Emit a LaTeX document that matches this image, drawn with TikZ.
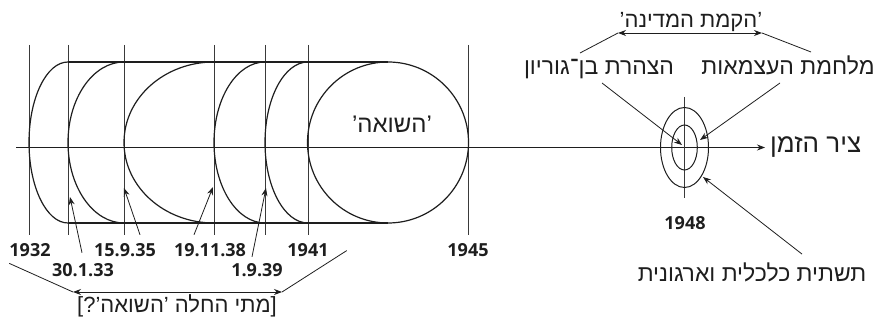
\documentclass[tikz,border=0pt]{standalone}
\usepackage{fontspec}
\usepackage{xcolor}
\usepackage{tikz}
\usetikzlibrary{arrows.meta}
\TeXXeTstate=1
\newfontfamily\hebfont[Script=Hebrew]{Liberation Sans}
\newfontfamily\numfont{Open Sans}
\definecolor{inkline}{HTML}{1E1E1E}
\definecolor{gridgray}{HTML}{3A3A3A}
\tikzset{ptr/.style={-{Stealth[length=8pt,width=6pt]},line width=.8pt,inkline},
span/.style={{Stealth[length=8pt,width=6pt]}-{Stealth[length=8pt,width=6pt]},line width=.8pt,inkline},
guide/.style={line width=.9pt,gridgray},
rim/.style={line width=1.2pt,inkline},
yr/.style={font=\numfont\bfseries\fontsize{18}{18}\selectfont,inner sep=0pt,inkline,anchor=base},
heb/.style={font=\hebfont\fontsize{23}{23}\selectfont,inner sep=0pt,inkline,anchor=base}}

\begin{document}
\begin{tikzpicture}[x=1pt,y=1pt]
\useasboundingbox (0,0) rectangle (874,320);
% time axis
\coordinate (t0) at (16,172.5);
\coordinate (t1) at (765,172.5);
\draw[guide,ptr] (t0) -- (t1);
\node[heb,anchor=base west,font=\hebfont\fontsize{26}{26}\selectfont] (axis) at (770,167) {\beginR ציר הזמן\endR};
% the growing shapes
\foreach \x in {29,68,124,214,265,308,468} \draw[guide] (\x,275) -- (\x,85);
\foreach \xa/\xb in {29/68,68/124,124/214,214/265,265/308}
  \draw[rim] (\xb,258) arc[start angle=90,end angle=270,x radius={\xb-\xa},y radius=80.5];
\draw[rim] (68,258) -- (388,258) (68,97) -- (388,97);
\draw[rim] (388,177.5) circle[radius=80.5];
\node[heb,font=\hebfont\fontsize{24}{24}\selectfont] (shoah) at (392,187) {\beginR ’השואה’\endR};
% years and dates
\node[yr] (y1932) at (30,63) {1932};
\node[yr] (d300133) at (83,43) {30.1.33};
\node[yr] (d150935) at (125,63) {15.9.35};
\node[yr] (d191138) at (210,63) {19.11.38};
\node[yr] (d010939) at (257,43) {1.9.39};
\node[yr] (y1941) at (308,63) {1941};
\node[yr] (y1945) at (468,63) {1945};
\coordinate (p300133) at (70,123);
\coordinate (p150935) at (124,132);
\coordinate (p191138) at (213,133);
\coordinate (p010939) at (266,132);
\draw[ptr] ([xshift=-1pt,yshift=11pt]d300133.north) -- (p300133);
\draw[ptr] ([xshift=15pt,yshift=9pt]d150935.north) -- (p150935);
\draw[ptr] ([xshift=-16pt,yshift=9pt]d191138.north) -- (p191138);
\draw[ptr] ([xshift=-5pt,yshift=7pt]d010939.north) -- (p010939);
% when did it start
\coordinate (bl) at (73,28);
\coordinate (br) at (282,28);
\draw[ptr,-] ([yshift=-6pt]y1932.south west) -- (bl);
\draw[ptr,-] ([xshift=18pt]y1941.east) -- (br);
\draw[span] (bl) -- (br);
\node[heb,font=\hebfont\fontsize{22}{22}\selectfont] (when) at (177,7) {\beginR [מתי החלה ’השואה’?]\endR};
% 1948
\coordinate (c48) at (684.5,172.5);
\draw[guide] (684.5,223) -- (684.5,122);
\draw[rim,line width=1pt] (c48) ellipse[x radius=24,y radius=40];
\draw[rim,line width=1pt] (c48) ellipse[x radius=12.8,y radius=22.5];
\node[yr] (y1948) at (685,90) {1948};
\node[heb,font=\hebfont\fontsize{22}{22}\selectfont] (state) at (691,292) {\beginR ’הקמת המדינה’\endR};
\node[heb] (decl) at (599,245) {\beginR הצהרת בן־גוריון\endR};
\node[heb] (war) at (788,245) {\beginR מלחמת העצמאות\endR};
\node[heb] (infra) at (752,38) {\beginR תשתית כלכלית וארגונית\endR};
\coordinate (sl) at (618,287);
\coordinate (sr) at (762,287);
\draw[span] (sl) -- (sr);
\draw[ptr,-] ([xshift=-19pt,yshift=22pt]decl.base) -- (sl);
\draw[ptr,-] ([xshift=23pt,yshift=23pt]war.base) -- (sr);
\coordinate (pdecl) at (682,175);
\coordinate (pwar) at (700,180);
\coordinate (pinfra) at (703,143);
\draw[ptr] ([xshift=3pt,yshift=-8pt]decl.base) -- (pdecl);
\draw[ptr] ([xshift=-8pt,yshift=-8pt]war.base) -- (pwar);
\draw[ptr] ([xshift=50pt,yshift=9pt]infra.north) -- (pinfra);
\end{tikzpicture}
\end{document}
